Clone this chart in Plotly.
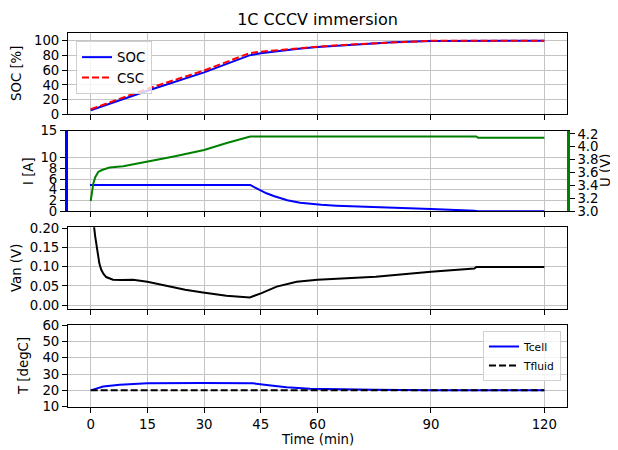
import plotly.graph_objects as go

# ---------------- data ----------------
soc_t = [0, 15, 30, 42, 45, 50, 55, 60, 70, 80, 90, 100, 120]
soc = [5.5, 32, 57, 80, 83, 86.5, 89, 91.5, 95, 97.8, 99.6, 100, 100]
csc_t = [0, 15, 30, 42, 45, 50, 55, 60, 70, 80, 90, 100, 120]
csc = [6.8, 34.7, 59.5, 83, 85, 87.5, 89.5, 91.8, 95.2, 98, 99.8, 100, 100]

cur_t = [-0.2, 42.2, 43.5, 45, 46.5, 48.4, 50, 52, 55.4, 58, 61, 65, 71, 80, 90, 101.5, 102.5, 120]
cur = [4.9, 4.9, 4.4, 3.85, 3.35, 2.85, 2.45, 2.05, 1.6, 1.38, 1.2, 1.05, 0.87, 0.65, 0.43, 0.12, 0.03, 0.03]

volt_t = [0, 0.3, 0.7, 1.2, 2, 3, 3.8, 5, 8.6, 15, 22, 30, 36, 42.2, 102, 102.5, 120]
volt = [3.16, 3.3, 3.43, 3.53, 3.61, 3.64, 3.66, 3.68, 3.70, 3.77, 3.85, 3.95, 4.06, 4.16, 4.16, 4.14, 4.14]

van_t = [0.6, 0.9, 1.2, 1.5, 1.9, 2.3, 2.8, 3.4, 4.1, 4.9, 5.9, 8, 11.2, 15, 20.9, 25, 29.7, 35.9, 42.1,
         45.2, 49.2, 54.5, 60, 75.4, 90, 101.5, 102, 120]
van = [0.30, 0.204, 0.178, 0.155, 0.126, 0.108, 0.092, 0.081, 0.073, 0.069, 0.066, 0.0655, 0.066, 0.061,
       0.048, 0.040, 0.033, 0.024, 0.020, 0.031, 0.048, 0.061, 0.066, 0.074, 0.087, 0.095, 0.099, 0.099]

tcell_t = [0, 3.3, 7.7, 15, 29.7, 43, 46.5, 51.8, 58, 65, 75, 90, 120]
tcell = [20, 22.3, 23.5, 24.3, 24.5, 24.3, 23.3, 21.9, 21.0, 20.6, 20.3, 20.1, 20.0]
tfluid_t = [0, 120]
tfluid = [20, 20]

x_ticks = [0, 15, 30, 45, 60, 90, 120]
soc_ticks = [0, 20, 40, 60, 80, 100]
cur_ticks = [0, 2, 4, 6, 8, 10, 15]
volt_ticks = [3.0, 3.2, 3.4, 3.6, 3.8, 4.0, 4.2]
van_ticks = [0.0, 0.05, 0.10, 0.15, 0.20]
temp_ticks = [10, 20, 30, 40, 50, 60]

# ---------------- figure ----------------
FONT = "DejaVu Sans"
BLUE, RED, GREEN, BLACK = "#0000ff", "#ff0000", "#008000", "#000000"
LW = 2

# page body has an 8px margin -> figure is made 8px smaller and margins shifted
W, H = 610, 442
ML, MR, MT, MB = 60, 51, 25, 43
PW, PH = W - ML - MR, H - MT - MB


def px_x(page_x):
    return (page_x - 8 - ML) / PW


def px_y(page_y):
    return (H - MB - (page_y - 8)) / PH


fig = go.Figure()
fig.add_trace(go.Scatter(x=soc_t, y=soc, mode="lines", name="SOC",
                         line=dict(color=BLUE, width=LW), xaxis="x", yaxis="y", legend="legend"))
fig.add_trace(go.Scatter(x=csc_t, y=csc, mode="lines", name="CSC",
                         line=dict(color=RED, width=LW, dash="7px,3px"), xaxis="x", yaxis="y", legend="legend"))
fig.add_trace(go.Scatter(x=cur_t, y=cur, mode="lines", name="I", showlegend=False,
                         line=dict(color=BLUE, width=LW), xaxis="x2", yaxis="y2"))
fig.add_trace(go.Scatter(x=volt_t, y=volt, mode="lines", name="U", showlegend=False,
                         line=dict(color=GREEN, width=LW), xaxis="x2", yaxis="y5"))
fig.add_trace(go.Scatter(x=van_t, y=van, mode="lines", name="Van", showlegend=False,
                         line=dict(color=BLACK, width=LW), xaxis="x3", yaxis="y3"))
fig.add_trace(go.Scatter(x=tcell_t, y=tcell, mode="lines", name="Tcell",
                         line=dict(color=BLUE, width=LW), xaxis="x4", yaxis="y4", legend="legend2"))
fig.add_trace(go.Scatter(x=tfluid_t, y=tfluid, mode="lines", name="Tfluid",
                         line=dict(color=BLACK, width=LW, dash="7px,3px"), xaxis="x4", yaxis="y4", legend="legend2"))

tickfont = dict(family=FONT, size=13.3, color="#000000")
grid = dict(showgrid=True, gridcolor="#c4c4c4", gridwidth=1, zeroline=False)


def xax(show_labels, anchor):
    return dict(domain=[0, 1], range=[-6, 126], tickvals=x_ticks, ticks="outside", ticklen=5,
                tickwidth=1, tickcolor="black", showline=True, mirror=True, linecolor="black",
                linewidth=1, showticklabels=show_labels, tickfont=tickfont, anchor=anchor,
                automargin=False, **grid)


def yax(domain, rng, tickvals, fmt=None, **kw):
    d = dict(domain=domain, range=rng, tickvals=tickvals, ticks="outside", ticklen=5, tickwidth=1,
             tickcolor="black", showline=True, mirror=True, linecolor="black", linewidth=1,
             tickfont=tickfont, automargin=False, **grid)
    if fmt:
        d["tickformat"] = fmt
    d.update(kw)
    return d


def dom(top_px, bot_px):
    return [px_y(bot_px), px_y(top_px)]


# (text, page x, page y, textangle)
titles = [
    ("SOC [%]", 16, 74, -90),
    ("I [A]", 28, 171, -90),
    ("Van (V)", 16, 268, -90),
    ("T [degC]", 23, 366, -90),
    ("U (V)", 605, 171, -90),
    ("Time (min)", 317.5, 440, 0),
]
annotations = [dict(text=t, x=px_x(x), y=px_y(y), xref="paper", yref="paper", showarrow=False,
                    xanchor="center", yanchor="middle", textangle=a,
                    font=dict(family=FONT, size=13.3, color="black")) for t, x, y, a in titles]

fig.update_layout(
    width=W, height=H,
    margin=dict(l=ML, r=MR, t=MT, b=MB, autoexpand=False),
    paper_bgcolor="white", plot_bgcolor="white",
    font=dict(family=FONT, size=13.3, color="black"),
    title=dict(text="1C CCCV immersion", x=px_x(317.5), xref="paper", xanchor="center",
               y=1 - (19 - 8) / H, yanchor="middle", font=dict(family=FONT, size=16)),
    xaxis=xax(False, "y"),
    xaxis2=xax(False, "y2"),
    xaxis3=xax(False, "y3"),
    xaxis4=xax(True, "y4"),
    yaxis=yax(dom(33.3, 114.3), [0, 110], soc_ticks, anchor="x"),
    yaxis2=yax(dom(130.7, 211.3), [0, 15], cur_ticks, anchor="x2",
               mirror=False, linecolor=BLUE, linewidth=3),
    yaxis5=dict(overlaying="y2", side="right", anchor="x2", range=[3.0, 4.25], tickvals=volt_ticks,
                tickformat=".1f", ticks="outside", ticklen=5, tickwidth=1, tickcolor="black",
                showline=True, linecolor=GREEN, linewidth=2.5, showgrid=False, zeroline=False,
                tickfont=tickfont, automargin=False),
    yaxis3=yax(dom(227.3, 309.3), [-0.011, 0.2026], van_ticks, fmt=".2f", anchor="x3"),
    yaxis4=yax(dom(325, 406.7), [10, 60], temp_ticks, anchor="x4"),
    annotations=annotations,
    legend=dict(x=px_x(76), y=px_y(41), xanchor="left", yanchor="top", xref="paper", yref="paper",
                bgcolor="rgba(255,255,255,0.8)", bordercolor="#d0d0d0", borderwidth=1,
                font=dict(family=FONT, size=13.3), tracegroupgap=0, itemwidth=30),
    legend2=dict(x=px_x(561), y=px_y(331), xanchor="right", yanchor="top", xref="paper", yref="paper",
                 bgcolor="rgba(255,255,255,0.8)", bordercolor="#d0d0d0", borderwidth=1,
                 font=dict(family=FONT, size=10.7), tracegroupgap=0, itemwidth=30),
    showlegend=True,
)

fig.write_html("out.html")
